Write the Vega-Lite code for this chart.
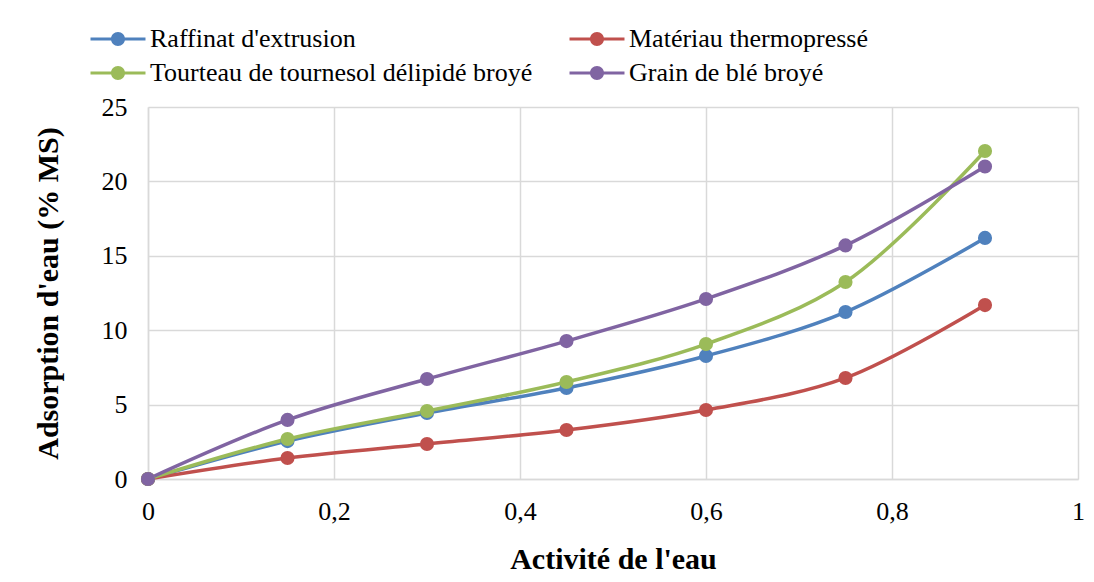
{
  "$schema": "https://vega.github.io/schema/vega-lite/v6.json",
  "width": 930,
  "height": 372,
  "autosize": {"type": "none"},
  "padding": {"left": 148, "top": 107, "right": 16, "bottom": 103},
  "background": "white",
  "config": {
    "locale": {"number": {"decimal": ",", "thousands": " ", "grouping": [3], "currency": ["", " €"]}},
    "font": "Liberation Serif",
    "view": {"stroke": null}
  },
  "data": {
    "values": [
      {"aw": 0, "serie": "Raffinat d'extrusion", "v": 0},
      {"aw": 0.15, "serie": "Raffinat d'extrusion", "v": 2.55},
      {"aw": 0.3, "serie": "Raffinat d'extrusion", "v": 4.44},
      {"aw": 0.45, "serie": "Raffinat d'extrusion", "v": 6.12},
      {"aw": 0.6, "serie": "Raffinat d'extrusion", "v": 8.27},
      {"aw": 0.75, "serie": "Raffinat d'extrusion", "v": 11.22},
      {"aw": 0.9, "serie": "Raffinat d'extrusion", "v": 16.2},
      {"aw": 0, "serie": "Matériau thermopressé", "v": 0},
      {"aw": 0.15, "serie": "Matériau thermopressé", "v": 1.41},
      {"aw": 0.3, "serie": "Matériau thermopressé", "v": 2.35},
      {"aw": 0.45, "serie": "Matériau thermopressé", "v": 3.29},
      {"aw": 0.6, "serie": "Matériau thermopressé", "v": 4.64},
      {"aw": 0.75, "serie": "Matériau thermopressé", "v": 6.79},
      {"aw": 0.9, "serie": "Matériau thermopressé", "v": 11.69},
      {"aw": 0, "serie": "Tourteau de tournesol délipidé broyé", "v": 0},
      {"aw": 0.15, "serie": "Tourteau de tournesol délipidé broyé", "v": 2.69},
      {"aw": 0.3, "serie": "Tourteau de tournesol délipidé broyé", "v": 4.57},
      {"aw": 0.45, "serie": "Tourteau de tournesol délipidé broyé", "v": 6.52},
      {"aw": 0.6, "serie": "Tourteau de tournesol délipidé broyé", "v": 9.07},
      {"aw": 0.75, "serie": "Tourteau de tournesol délipidé broyé", "v": 13.24},
      {"aw": 0.9, "serie": "Tourteau de tournesol délipidé broyé", "v": 22.04},
      {"aw": 0, "serie": "Grain de blé broyé", "v": 0},
      {"aw": 0.15, "serie": "Grain de blé broyé", "v": 3.97},
      {"aw": 0.3, "serie": "Grain de blé broyé", "v": 6.72},
      {"aw": 0.45, "serie": "Grain de blé broyé", "v": 9.27},
      {"aw": 0.6, "serie": "Grain de blé broyé", "v": 12.1},
      {"aw": 0.75, "serie": "Grain de blé broyé", "v": 15.7},
      {"aw": 0.9, "serie": "Grain de blé broyé", "v": 21.0}
    ]
  },
  "encoding": {
    "x": {
      "field": "aw", "type": "quantitative",
      "scale": {"domain": [0, 1], "nice": false},
      "axis": {
        "values": [0, 0.2, 0.4, 0.6, 0.8, 1],
        "format": "~g",
        "labelFlush": false,
        "title": "Activité de l'eau",
        "titleFont": "Liberation Serif", "titleFontSize": 30, "titleFontWeight": "bold", "titleColor": "black",
        "titlePadding": 20,
        "labelFont": "Liberation Serif", "labelFontSize": 26, "labelColor": "black",
        "labelPadding": 19,
        "ticks": false,
        "domainColor": "#d9d9d9", "domainWidth": 1.5,
        "gridColor": "#d9d9d9", "gridWidth": 1.5
      }
    },
    "y": {
      "field": "v", "type": "quantitative",
      "scale": {"domain": [0, 25], "nice": false},
      "axis": {
        "values": [0, 5, 10, 15, 20, 25],
        "title": "Adsorption d'eau (% MS)",
        "titleFont": "Liberation Serif", "titleFontSize": 30, "titleFontWeight": "bold", "titleColor": "black",
        "titlePadding": 38,
        "labelFont": "Liberation Serif", "labelFontSize": 26, "labelColor": "black",
        "labelPadding": 21,
        "ticks": false,
        "domainColor": "#d9d9d9", "domainWidth": 1.5,
        "gridColor": "#d9d9d9", "gridWidth": 1.5
      }
    },
    "color": {
      "field": "serie", "type": "nominal",
      "scale": {
        "domain": ["Raffinat d'extrusion", "Matériau thermopressé", "Tourteau de tournesol délipidé broyé", "Grain de blé broyé"],
        "range": ["#4F81BD", "#C0504D", "#9BBB59", "#8064A2"]
      },
      "legend": {
        "orient": "none",
        "direction": "horizontal",
        "legendX": -44,
        "legendY": -82,
        "columns": 2,
        "columnPadding": 36,
        "rowPadding": 7,
        "title": null,
        "labelFont": "Liberation Serif",
        "labelFontSize": 26,
        "labelColor": "black",
        "labelLimit": 0,
        "labelOffset": 18,
        "symbolType": "M-2,-0.115H2V0.115H-2Z M0.51,0 A0.51,0.51 0 1,1 -0.51,0 A0.51,0.51 0 1,1 0.51,0Z",
        "symbolSize": 756,
        "symbolStrokeWidth": 0,
        "encode": {"symbols": {"update": {"fill": {"scale": "color", "field": "value"}, "fillOpacity": {"value": 1}, "strokeWidth": {"value": 0}}}}
      }
    }
  },
  "layer": [
    {"mark": {"type": "line", "interpolate": "catmull-rom", "strokeWidth": 3.5}},
    {"mark": {"type": "point", "filled": true, "size": 200, "opacity": 1}}
  ]
}
